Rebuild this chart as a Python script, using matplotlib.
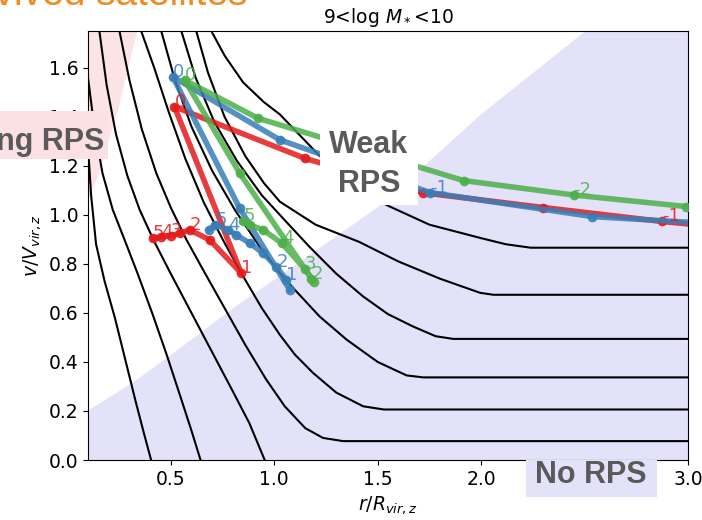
import matplotlib
matplotlib.use("Agg")
import matplotlib.pyplot as plt
from matplotlib.patches import Rectangle

# black reference curves (r/Rvir, v/Vvir)
c1_r = [0.1, 0.115, 0.139, 0.18, 0.23, 0.28, 0.33, 0.37, 0.405]
c1_v = [1.28, 1.08, 0.88, 0.73, 0.58, 0.41, 0.24, 0.11, 0.0]
c2_r = [0.1, 0.13, 0.17, 0.22, 0.276, 0.34, 0.41, 0.48, 0.55, 0.6, 0.644]
c2_v = [1.56, 1.36, 1.17, 1.02, 0.90, 0.76, 0.60, 0.43, 0.25, 0.12, 0.0]
c3_r = [0.155, 0.19, 0.235, 0.29, 0.35, 0.421, 0.5, 0.6, 0.7, 0.8, 0.88, 0.954]
c3_v = [1.75, 1.53, 1.33, 1.16, 1.02, 0.89, 0.76, 0.60, 0.44, 0.28, 0.15, 0.0]
c4_r = [0.252, 0.30, 0.36, 0.43, 0.5, 0.575, 0.66, 0.76, 0.86, 0.96, 1.051, 1.15, 1.236, 1.333, 3.0]
c4_v = [1.75, 1.55, 1.35, 1.17, 1.03, 0.90, 0.77, 0.62, 0.47, 0.33, 0.219, 0.13, 0.09, 0.077, 0.077]
c5_r = [0.357, 0.42, 0.49, 0.57, 0.66, 0.752, 0.841, 0.94, 1.027, 1.1, 1.188, 1.3, 1.43, 1.53, 3.0]
c5_v = [1.75, 1.60, 1.42, 1.23, 1.05, 0.898, 0.762, 0.62, 0.511, 0.43, 0.355, 0.275, 0.219, 0.206, 0.206]
c6_r = [0.454, 0.52, 0.6, 0.7, 0.81, 0.93, 1.02, 1.10, 1.22, 1.35, 1.5, 1.64, 1.72, 3.0]
c6_v = [1.75, 1.55, 1.36, 1.18, 1.02, 0.87, 0.77, 0.694, 0.585, 0.491, 0.40, 0.345, 0.337, 0.337]
c7_r = [0.551, 0.62, 0.71, 0.82, 0.94, 1.06, 1.17, 1.3, 1.43, 1.55, 1.67, 1.78, 1.865, 3.0]
c7_v = [1.75, 1.56, 1.38, 1.22, 1.08, 0.97, 0.87, 0.76, 0.667, 0.595, 0.545, 0.505, 0.494, 0.494]
c8_r = [0.623, 0.68, 0.76, 0.86, 0.95, 1.027, 1.2, 1.41, 1.6, 1.8, 1.995, 2.06, 3.0]
c8_v = [1.75, 1.58, 1.40, 1.24, 1.13, 1.054, 0.96, 0.89, 0.81, 0.74, 0.682, 0.674, 0.674]
c9_r = [0.696, 0.76, 0.85, 0.95, 1.027, 1.22, 1.38, 1.543, 1.75, 1.995, 2.12, 2.24, 3.0]
c9_v = [1.75, 1.65, 1.54, 1.46, 1.41, 1.24, 1.13, 1.04, 0.96, 0.906, 0.88, 0.866, 0.866]

# shaded regimes
weak_edge_r = [0.1, 0.308, 0.486, 0.615, 0.809, 1.051, 1.511, 1.995, 2.495, 3.0]
weak_edge_v = [0.205, 0.314, 0.423, 0.504, 0.627, 0.769, 1.041, 1.41, 1.747, 2.1]
strong_edge_r = [0.05, 0.1, 0.147, 0.244, 0.335, 0.36]
strong_edge_v = [0.95, 1.065, 1.163, 1.435, 1.75, 1.85]

# satellite tracks
red_r = [3.1, 2.875, 2.3, 1.72, 1.15, 0.518, 0.841, 0.688, 0.591, 0.545, 0.50, 0.455, 0.413]
red_v = [0.955, 0.973, 1.03, 1.09, 1.23, 1.441, 0.762, 0.898, 0.939, 0.925, 0.915, 0.91, 0.905]
red_lab = {1: "-1", 5: "0", 6: "1", 8: "2", 10: "3", 11: "4", 12: "5"}

blue_r = [3.1, 2.536, 1.753, 1.027, 0.51, 0.833, 1.075, 1.059, 1.01, 0.946, 0.881, 0.817, 0.775, 0.715, 0.685]
blue_v = [0.965, 0.993, 1.091, 1.306, 1.563, 1.027, 0.694, 0.735, 0.789, 0.844, 0.885, 0.918, 0.94, 0.96, 0.94]
blue_lab = {2: "-1", 4: "0", 7: "1", 8: "2", 12: "4", 13: "5"}

green_r = [2.99, 2.447, 1.915, 0.922, 0.567, 0.833, 1.19, 1.18, 1.148, 1.036, 0.946, 0.881, 0.85]
green_v = [1.034, 1.081, 1.14, 1.394, 1.55, 1.17, 0.728, 0.74, 0.78, 0.885, 0.939, 0.959, 0.973]
green_lab = {1: "-2", 4: "0", 7: "2", 8: "3", 9: "4", 12: "5"}

curves = [(c1_r, c1_v), (c2_r, c2_v), (c3_r, c3_v), (c4_r, c4_v), (c5_r, c5_v),
          (c6_r, c6_v), (c7_r, c7_v), (c8_r, c8_v), (c9_r, c9_v)]
tracks = [(red_r, red_v, red_lab, "#e41a1c"),
          (blue_r, blue_v, blue_lab, "#377eb8"),
          (green_r, green_v, green_lab, "#4daf4a")]

W, H = 702, 520
fig = plt.figure(figsize=(W / 100, H / 100), dpi=100)
ax = fig.add_axes([88 / W, 60 / H, 600 / W, 429 / H])

ax.fill_between(weak_edge_r, 0, weak_edge_v, color="#e4e2f9", lw=0, zorder=0)
ax.fill_between(strong_edge_r, strong_edge_v, 2.0, color="#fbe3e6", lw=0, zorder=0)

for r, v in curves:
    ax.plot(r, v, color="k", lw=1.5, zorder=1)

for r, v, lab, col in tracks:
    ax.plot(r, v, "-o", color=col, lw=4, ms=6, alpha=0.85, zorder=3)
    for i, s in lab.items():
        ax.text(r[i], v[i], s, color=col, fontsize=13, alpha=0.85, zorder=4)

ax.set_xlim(0.1, 3.0)
ax.set_ylim(0, 1.75)
ax.set_xticks([0.5, 1.0, 1.5, 2.0, 2.5, 3.0])
ax.set_yticks([0.0, 0.2, 0.4, 0.6, 0.8, 1.0, 1.2, 1.4, 1.6])
ax.tick_params(labelsize=13.5)
ax.set_xlabel(r"$r/R_{vir,z}$", fontsize=13.5)
ax.set_ylabel(r"$v/V_{vir,z}$", fontsize=13.5)
ax.set_title(r"9<log $M_*$<10", fontsize=13.5)

# slide annotations
def px_box(x0, y0, x1, y1, col):
    fig.add_artist(Rectangle((x0 / W, 1 - y1 / H), (x1 - x0) / W, (y1 - y0) / H,
                             transform=fig.transFigure, color=col, lw=0, zorder=10))

def px_text(x, y, s, **kw):
    fig.text(x / W, 1 - y / H, s, zorder=11, **kw)

box_font = dict(fontsize=22, fontweight="bold", color="#5a5a5a", family="Liberation Sans")
px_box(0, 111, 108, 159, "#fbe1e4")
px_text(104, 150, "Strong RPS", ha="right", va="baseline", **box_font)
px_box(320, 116, 418, 205, "white")
px_text(369, 153, "Weak", ha="center", va="baseline", **box_font)
px_text(369, 192, "RPS", ha="center", va="baseline", **box_font)
px_box(526, 460, 657, 497, "#e4e2f9")
px_text(591, 483, "No RPS", ha="center", va="baseline", **box_font)
px_text(247, 5, "Survived satellites", ha="right", va="baseline",
        fontsize=28, color="#f28a1e", family="Liberation Sans")

fig.savefig("out.png", dpi=100)
